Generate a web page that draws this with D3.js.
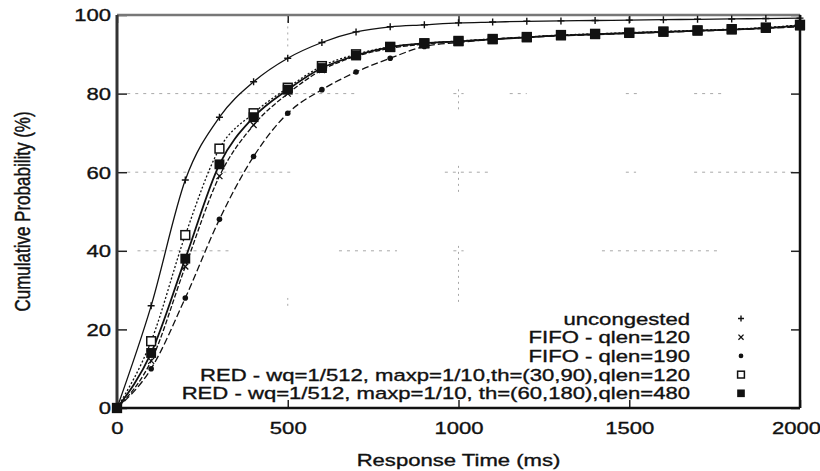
<!DOCTYPE html>
<html>
<head>
<meta charset="utf-8">
<script src="https://cdn.jsdelivr.net/npm/d3@7"></script>
<style>
  html, body { margin: 0; padding: 0; background: #fff; }
  svg { display: block; }
  text { font-family: "Liberation Sans", Arial, Helvetica, sans-serif; fill: #111; stroke: #111; stroke-width: 0.35px; }
</style>
</head>
<body>
<svg id="chart" width="820" height="471"></svg>
<script>
// Response time samples (ms), one point every 100 ms
const responseTimes = d3.range(0, 2001, 100);

// Cumulative probability (%) for each queue configuration
const uncongested = [0, 26, 58, 74, 83, 89, 93, 95.7, 97, 97.5, 98, 98.2, 98.4, 98.5, 98.6, 98.7, 98.8, 98.9, 99, 99.1, 99.2];
const fifo120     = [0, 12, 36, 59, 72, 80, 86, 89.5, 91.5, 92.6, 93.3, 93.9, 94.4, 94.8, 95.1, 95.4, 95.7, 96, 96.3, 96.7, 97.2];
const fifo190     = [0, 10, 28, 48, 64, 75, 81, 85.5, 89, 92, 93, 93.8, 94.3, 94.7, 95, 95.3, 95.6, 95.9, 96.2, 96.6, 97];
const red120      = [0, 17, 44, 66, 75, 81.5, 87, 90, 91.9, 92.8, 93.4, 93.9, 94.4, 94.9, 95.2, 95.5, 95.8, 96.1, 96.4, 96.8, 97.5];
const red480      = [0, 14, 38, 62, 74, 81, 86.5, 89.7, 91.8, 92.8, 93.3, 93.8, 94.3, 94.8, 95.1, 95.4, 95.7, 96, 96.3, 96.7, 97.3];

const seriesNames = [
  "uncongested",
  "FIFO - qlen=120",
  "FIFO - qlen=190",
  "RED - wq=1/512, maxp=1/10,th=(30,90),qlen=120",
  "RED - wq=1/512, maxp=1/10, th=(60,180),qlen=480"
];
const seriesValues = [uncongested, fifo120, fifo190, red120, red480];
const seriesMarkers = ["plus", "cross", "dot", "openSquare", "filledSquare"];
const seriesDashes = [null, "5,2", "7,3", "2,2", null];

const xTicks = [0, 500, 1000, 1500, 2000];
const yTicks = [0, 20, 40, 60, 80, 100];

// Faint dotted grid fragments (data units)
const gridRows = [
  [80, 30, 700], [80, 985, 1015], [80, 1150, 1200], [80, 1490, 1530], [80, 1690, 1780],
  [60, 30, 515], [60, 960, 1090], [60, 1490, 1520], [60, 1690, 1990],
  [40, 60, 340], [40, 650, 820], [40, 985, 1015], [40, 1420, 1760]
];
const gridCols = [
  [500, 92, 100], [1000, 76, 82], [1000, 55, 62], [1000, 27, 42], [500, 26, 28]
];

const svg = d3.select("#chart");
const X_STRETCH = 1.3;

const x = d3.scaleLinear().domain([0, 2000]).range([117, 800]);
const y = d3.scaleLinear().domain([0, 100]).range([408, 15]);

// grid fragments
svg.append("g")
  .selectAll("line").data(gridRows).join("line")
  .attr("x1", d => x(d[1])).attr("x2", d => x(d[2]))
  .attr("y1", d => y(d[0])).attr("y2", d => y(d[0]))
  .attr("stroke", "#a8a8a8").attr("stroke-width", 1).attr("stroke-dasharray", "3,5");
svg.append("g")
  .selectAll("line").data(gridCols).join("line")
  .attr("x1", d => x(d[0])).attr("x2", d => x(d[0]))
  .attr("y1", d => y(d[1])).attr("y2", d => y(d[2]))
  .attr("stroke", "#a8a8a8").attr("stroke-width", 1).attr("stroke-dasharray", "2,4");

// axes: ticks point inward
const axisLeftG = svg.append("g").attr("transform", `translate(${x(0)},0)`)
  .call(d3.axisLeft(y).tickValues(yTicks).tickFormat(d3.format("d"))
    .tickSizeInner(-10).tickSizeOuter(0).tickPadding(0));
axisLeftG.selectAll("text")
  .attr("x", 0).attr("dy", "0.35em").attr("text-anchor", "end")
  .attr("transform", `translate(-6,0) scale(${X_STRETCH},1)`)
  .style("font-size", "17px");

const axisBottomG = svg.append("g").attr("transform", `translate(0,${y(0)})`)
  .call(d3.axisBottom(x).tickValues(xTicks).tickFormat(d3.format("d"))
    .tickSizeInner(-8).tickSizeOuter(0).tickPadding(0));
axisBottomG.selectAll("text")
  .attr("y", 0).attr("dy", "0").attr("text-anchor", "middle")
  .attr("transform", d => `translate(${d === 2000 ? -4 : 0},26) scale(${X_STRETCH},1)`)
  .style("font-size", "17px");

const axisRightG = svg.append("g").attr("transform", `translate(${x(2000)},0)`)
  .call(d3.axisRight(y).tickValues(yTicks).tickSizeInner(-9).tickSizeOuter(0).tickFormat(""));
const axisTopG = svg.append("g").attr("transform", `translate(0,${y(100)})`)
  .call(d3.axisTop(x).tickValues(xTicks).tickSizeInner(-8).tickSizeOuter(0).tickFormat(""));

[axisLeftG, axisBottomG, axisRightG, axisTopG].forEach(g => {
  g.select(".domain").remove();
  g.selectAll(".tick line").attr("stroke", "#222").attr("stroke-width", 1.5);
  g.attr("font-family", null).attr("font-size", null);
});

// plot frame
const frame = svg.append("g");
frame.append("line").attr("x1", x(0)).attr("x2", x(2000)).attr("y1", y(100)).attr("y2", y(100))
  .attr("stroke", "#777").attr("stroke-width", 2.5);
frame.append("line").attr("x1", x(0)).attr("x2", x(0)).attr("y1", y(100)).attr("y2", y(0))
  .attr("stroke", "#333").attr("stroke-width", 3);
frame.append("line").attr("x1", x(0)).attr("x2", x(2000)).attr("y1", y(0)).attr("y2", y(0))
  .attr("stroke", "#111").attr("stroke-width", 2.5);
frame.append("line").attr("x1", x(2000)).attr("x2", x(2000)).attr("y1", y(100)).attr("y2", y(0))
  .attr("stroke", "#111").attr("stroke-width", 2.5);

// axis titles
svg.append("text")
  .attr("text-anchor", "middle")
  .attr("transform", `translate(${(x(0) + x(2000)) / 2},466) scale(${X_STRETCH},1)`)
  .style("font-size", "17px")
  .text("Response Time (ms)");
svg.append("text")
  .attr("text-anchor", "middle").attr("dy", "0.35em")
  .attr("transform", `translate(22,${(y(0) + y(100)) / 2}) rotate(-90) scale(1,${X_STRETCH})`)
  .style("font-size", "17px")
  .text("Cumulative Probability (%)");

// marker drawing
function drawMarker(g, type, cx, cy, scale) {
  const s = scale || 1;
  if (type === "plus") {
    const r = 3.5 * s;
    g.append("path").attr("d", `M${cx - r},${cy}H${cx + r}M${cx},${cy - r}V${cy + r}`)
      .attr("stroke", "#111").attr("stroke-width", 1.4).attr("fill", "none");
  } else if (type === "cross") {
    const r = 3 * s;
    g.append("path").attr("d", `M${cx - r},${cy - r}L${cx + r},${cy + r}M${cx - r},${cy + r}L${cx + r},${cy - r}`)
      .attr("stroke", "#111").attr("stroke-width", 1.3).attr("fill", "none");
  } else if (type === "dot") {
    g.append("circle").attr("cx", cx).attr("cy", cy).attr("r", 2.8 * s).attr("fill", "#111");
  } else if (type === "openSquare") {
    const h = 4 * s;
    g.append("rect").attr("x", cx - h).attr("y", cy - h).attr("width", 2 * h).attr("height", 2 * h)
      .attr("fill", "#fff").attr("stroke", "#111").attr("stroke-width", 1.5);
  } else if (type === "filledSquare") {
    const h = 4.5 * s;
    g.append("rect").attr("x", cx - h).attr("y", cy - h).attr("width", 2 * h).attr("height", 2 * h)
      .attr("fill", "#111");
  }
}

// series lines and markers
const line = d3.line()
  .x(d => x(d[0])).y(d => y(d[1]))
  .curve(d3.curveMonotoneX);

const plot = svg.append("g");
seriesValues.forEach((vals, i) => {
  const pts = responseTimes.map((t, k) => [t, vals[k]]);
  plot.append("path")
    .attr("d", line(pts))
    .attr("fill", "none")
    .attr("stroke", "#111")
    .attr("stroke-width", i === 4 ? 1.8 : 1.3)
    .attr("stroke-dasharray", seriesDashes[i]);
});
// draw markers bottom-up so squares stay visible
[2, 1, 0, 3, 4].forEach(i => {
  const g = plot.append("g");
  responseTimes.forEach((t, k) => drawMarker(g, seriesMarkers[i], x(t), y(seriesValues[i][k]), i >= 3 ? 1.1 : 1));
});

// legend
const legend = svg.append("g");
const legendBase = 324.5, legendStep = 18.7;
seriesNames.forEach((name, i) => {
  const by = legendBase + i * legendStep;
  legend.append("text")
    .attr("text-anchor", "end")
    .attr("transform", `translate(690,${by}) scale(${X_STRETCH},1)`)
    .style("font-size", "17px")
    .text(name);
  drawMarker(legend, seriesMarkers[i], 741, by - 6, 0.85);
});
</script>
</body>
</html>
